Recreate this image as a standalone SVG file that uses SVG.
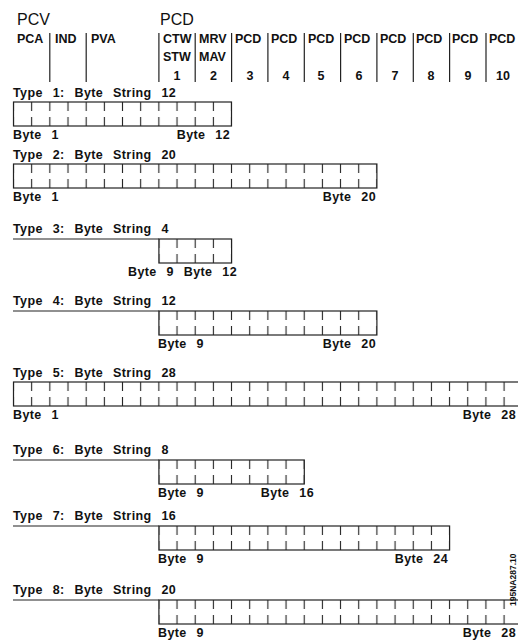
<svg xmlns="http://www.w3.org/2000/svg" width="518" height="642" viewBox="0 0 518 642">
<style>
text{font-family:"Liberation Sans",Arial,sans-serif;fill:#111}
.big{font-size:16px}
.h{font-size:12.5px;font-weight:bold}
.c{text-anchor:middle}
.lab{font-size:12.5px;font-weight:bold;letter-spacing:0.4px;word-spacing:6px}
.r{text-anchor:end}
.ln{stroke:#222;stroke-width:1.2;fill:none}
.box{stroke:#222;stroke-width:1.2;fill:none}
.id{font-size:8.5px;font-weight:bold}
</style>
<defs>
<pattern id="ticks" patternUnits="userSpaceOnUse" x="4.415" y="0" width="18.17" height="24">
<path d="M9.085 0V9M9.085 15V24" stroke="#222" stroke-width="1.1"/>
</pattern>
</defs>
<rect width="518" height="642" fill="#fff"/>

<g id="header">
<text class="big" x="17" y="25">PCV</text>
<text class="big" x="160" y="25">PCD</text>
<text class="h" x="17" y="43">PCA</text>
<text class="h" x="55" y="43">IND</text>
<text class="h" x="91" y="43">PVA</text>
<text class="h" x="163" y="43">CTW</text>
<text class="h" x="163" y="61">STW</text>
<text class="h c" x="177" y="80">1</text>
<text class="h" x="199" y="43">MRV</text>
<text class="h" x="199" y="61">MAV</text>
<text class="h c" x="213.5" y="80">2</text>
<text class="h" x="235" y="43">PCD</text>
<text class="h c" x="250" y="80">3</text>
<text class="h" x="271" y="43">PCD</text>
<text class="h c" x="286" y="80">4</text>
<text class="h" x="308" y="43">PCD</text>
<text class="h c" x="321" y="80">5</text>
<text class="h" x="344" y="43">PCD</text>
<text class="h c" x="359" y="80">6</text>
<text class="h" x="380" y="43">PCD</text>
<text class="h c" x="395" y="80">7</text>
<text class="h" x="416" y="43">PCD</text>
<text class="h c" x="431" y="80">8</text>
<text class="h" x="452" y="43">PCD</text>
<text class="h c" x="468" y="80">9</text>
<text class="h" x="489" y="43">PCD</text>
<text class="h c" x="503" y="80">10</text>
<path class="ln" d="M49.8 33V82M86.2 33V82M158.9 33V82M195.2 33V82M231.6 33V82M267.9 33V82M304.3 33V82M340.6 33V82M376.9 33V82M413.3 33V82M449.6 33V82M486 33V82"/>
</g>

<g id="connectors">
<path class="ln" d="M13 239H158.9M13 311H158.9M13 460H158.9M13 526H158.9M13 600H158.9"/>
</g>

<g id="type1" transform="translate(0,102)">
<text class="lab" x="13" y="-5">Type 1: Byte String 12</text>
<rect x="13.5" y="0" width="218" height="24" fill="url(#ticks)"/>
<rect class="box" x="13.5" y="0" width="218" height="24"/>
<text class="lab" x="13" y="37">Byte 1</text>
<text class="lab r" x="230" y="37">Byte 12</text>
</g>

<g id="type2" transform="translate(0,164)">
<text class="lab" x="13" y="-5">Type 2: Byte String 20</text>
<rect x="13.5" y="0" width="363.4" height="24" fill="url(#ticks)"/>
<rect class="box" x="13.5" y="0" width="363.4" height="24"/>
<text class="lab" x="13" y="37">Byte 1</text>
<text class="lab r" x="376" y="37">Byte 20</text>
</g>

<g id="type3" transform="translate(0,239)">
<text class="lab" x="13" y="-6">Type 3: Byte String 4</text>
<rect x="158.9" y="0" width="72.7" height="24" fill="url(#ticks)"/>
<rect class="box" x="158.9" y="0" width="72.7" height="24"/>
<text class="lab" x="128" y="37">Byte 9</text>
<text class="lab r" x="237" y="37">Byte 12</text>
</g>

<g id="type4" transform="translate(0,311)">
<text class="lab" x="13" y="-6">Type 4: Byte String 12</text>
<rect x="158.9" y="0" width="218" height="24" fill="url(#ticks)"/>
<rect class="box" x="158.9" y="0" width="218" height="24"/>
<text class="lab" x="158" y="37">Byte 9</text>
<text class="lab r" x="376" y="37">Byte 20</text>
</g>

<g id="type5" transform="translate(0,382)">
<text class="lab" x="13" y="-5">Type 5: Byte String 28</text>
<rect x="13.5" y="0" width="508.8" height="24" fill="url(#ticks)"/>
<rect class="box" x="13.5" y="0" width="508.8" height="24"/>
<text class="lab" x="13" y="37">Byte 1</text>
<text class="lab r" x="516" y="37">Byte 28</text>
</g>

<g id="type6" transform="translate(0,460)">
<text class="lab" x="13" y="-6">Type 6: Byte String 8</text>
<rect x="158.9" y="0" width="145.4" height="24" fill="url(#ticks)"/>
<rect class="box" x="158.9" y="0" width="145.4" height="24"/>
<text class="lab" x="158" y="37">Byte 9</text>
<text class="lab r" x="314" y="37">Byte 16</text>
</g>

<g id="type7" transform="translate(0,526)">
<text class="lab" x="13" y="-6">Type 7: Byte String 16</text>
<rect x="158.9" y="0" width="290.7" height="24" fill="url(#ticks)"/>
<rect class="box" x="158.9" y="0" width="290.7" height="24"/>
<text class="lab" x="158" y="37">Byte 9</text>
<text class="lab r" x="448" y="37">Byte 24</text>
</g>

<g id="type8" transform="translate(0,600)">
<text class="lab" x="13" y="-6">Type 8: Byte String 20</text>
<rect x="158.9" y="0" width="363.4" height="24" fill="url(#ticks)"/>
<rect class="box" x="158.9" y="0" width="363.4" height="24"/>
<text class="lab" x="158" y="37">Byte 9</text>
<text class="lab r" x="516" y="37">Byte 28</text>
</g>

<g id="drawing-id">
<text class="id" transform="translate(516,606) rotate(-90)">195NA287.10</text>
</g>
</svg>
